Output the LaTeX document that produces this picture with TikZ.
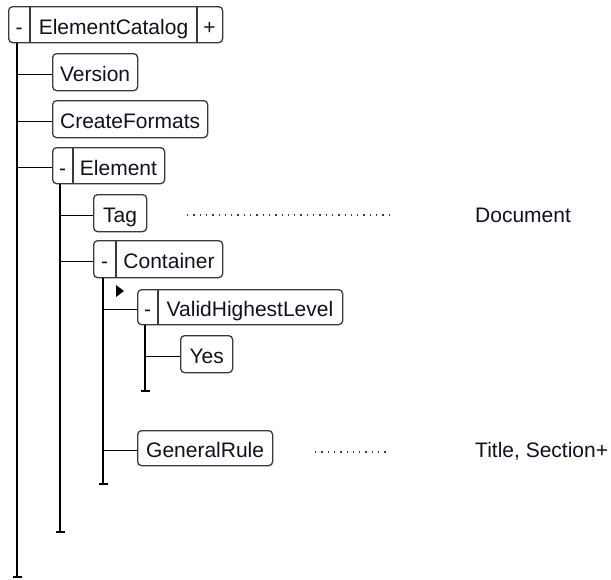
\documentclass[tikz,border=0pt]{standalone}
\usepackage{fontspec}
\setmainfont{Liberation Sans}
\definecolor{boxgray}{HTML}{3A3A3A}
\definecolor{txt}{HTML}{101020}
\begin{document}
\begin{tikzpicture}[x=1pt,y=-1pt,
  every node/.style={font=\fontsize{21}{25}\selectfont, text=txt},
  box/.style={draw=boxgray, line width=1.3pt, rounded corners=4pt, inner sep=0pt,
    minimum height=36pt, text height=19pt, text depth=0pt, anchor=north west},
  lbl/.style={inner sep=0pt},
  tree/.style={draw=black, line width=1.2pt},
  branch/.style={tree, transform canvas={yshift=-2pt}},
  divider/.style={draw=boxgray, line width=1.3pt},
  dotline/.style={draw=boxgray, line width=1.3pt, dash pattern=on 1.3pt off 5pt}]
\useasboundingbox (0,0) rectangle (611,579);

% ElementCatalog
\node[box, minimum width=214pt] (ec) at (8,6) {};
\draw[divider] (30,6) -- (30,42);
\draw[divider] (197,6) -- (197,42);
\node[lbl, anchor=base] (ecminus) at (19,34) {-};
\node[lbl, anchor=base] (ectext) at (113.5,34) {ElementCatalog};
\node[lbl, anchor=base] (ecplus) at (209.5,34) {+};

% level 1 boxes
\node[box, minimum width=85pt, minimum height=37pt] (version) at (52,53) {Version};
\node[box, minimum width=155pt, minimum height=37pt] (createformats) at (52,100) {CreateFormats};
\node[box, minimum width=112pt] (element) at (52,147) {};
\draw[divider] (73,147) -- (73,183);
\node[lbl, anchor=base] (elminus) at (62.5,175) {-};
\node[lbl, anchor=base] (eltext) at (118.5,175) {Element};

% level 2 boxes
\node[box, minimum width=53pt, minimum height=37pt] (tag) at (93,194) {Tag};
\node[box, minimum width=129pt, minimum height=37pt] (container) at (93,240) {};
\draw[divider] (116,240) -- (116,277);
\node[lbl, anchor=base] (cominus) at (104.5,268) {-};
\node[lbl, anchor=base] (cotext) at (169,268) {Container};

% level 3 boxes
\node[box, minimum width=205pt, minimum height=35pt] (vhl) at (137,289) {};
\draw[divider] (158,289) -- (158,324);
\node[lbl, anchor=base] (vhlminus) at (147.5,316) {-};
\node[lbl, anchor=base] (vhltext) at (250,316) {ValidHighestLevel};
\node[box, minimum width=52pt, minimum height=37pt] (yes) at (180,335) {Yes};
\node[box, minimum width=135pt, minimum height=35pt] (generalrule) at (137,430) {GeneralRule};

% tree lines
\coordinate (t0) at (17,577);
\coordinate (t1) at (60,532);
\coordinate (t2) at (103,484);
\coordinate (t3) at (145,391);
\draw[tree] (ec.south -| t0) -- (t0);
\draw[tree] ([xshift=-4.5pt]t0) -- ([xshift=4.5pt]t0);
\draw[tree] (element.south -| t1) -- (t1);
\draw[tree] ([xshift=-4.5pt]t1) -- ([xshift=4.5pt]t1);
\draw[tree] (container.south -| t2) -- (t2);
\draw[tree] ([xshift=-4.5pt]t2) -- ([xshift=4.5pt]t2);
\draw[tree] (vhl.south -| t3) -- (t3);
\draw[tree] ([xshift=-4.5pt]t3) -- ([xshift=4.5pt]t3);

\draw[branch] (t0 |- version.west) -- (version.west);
\draw[branch] (t0 |- createformats.west) -- (createformats.west);
\draw[branch] (t0 |- element.west) -- (element.west);
\draw[branch] (t1 |- tag.west) -- (tag.west);
\draw[branch] (t1 |- container.west) -- (container.west);
\draw[branch] (t2 |- vhl.west) -- (vhl.west);
\draw[branch] (t2 |- generalrule.west) -- (generalrule.west);
\draw[branch] (t3 |- yes.west) -- (yes.west);

% marker triangle
\fill[black] (116,285) -- (124,291) -- (116,297) -- cycle;

% dotted leaders and values
\coordinate (d1a) at (187,215);
\coordinate (d1b) at (390,215);
\draw[dotline] (d1a) -- (d1b);
\node[lbl, anchor=base west] (document) at (475,222) {Document};
\coordinate (d2a) at (315,452);
\coordinate (d2b) at (390,452);
\draw[dotline] (d2a) -- (d2b);
\node[lbl, anchor=base west] (titlesec) at (475,457) {Title, Section+};
\end{tikzpicture}
\end{document}
